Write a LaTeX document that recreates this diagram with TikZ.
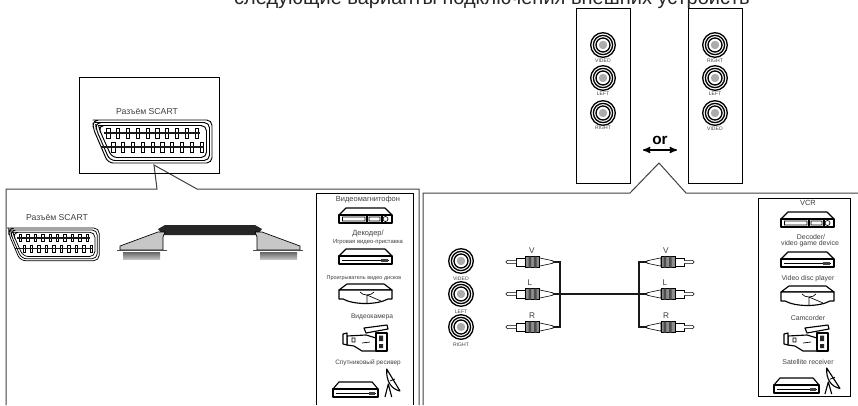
\documentclass[tikz,border=0pt]{standalone}
\usepackage{fontspec}
\setmainfont{Liberation Sans}
\usetikzlibrary{positioning, arrows}
\tikzset{
	>=stealth',
	panel/.style={draw=black!75, line width=.75pt},
	box/.style={draw=black, line width=.7pt},
	cable/.style={line width=2.2pt, black!90},
	lab/.style={inner sep=0pt, text=black!75, font=\fontsize{#1}{#1}\selectfont},
	lab/.default=5.6,
	gear/.style={draw=black, line width=.85pt, fill=white, line join=round},
	scart/.pic={
		\foreach \o in {0,2.5,5.5}
			\draw[rounded corners=4, fill=white] ({6+\o},{\o}) -- ({120-\o},{\o}) -- ({120-\o},{43-\o}) -- ({16+.7*\o},{43-\o}) -- ({1+1.3*\o},{8+.6*\o}) -- ({1+\o},{\o}) -- cycle;
		\foreach \i in {0,...,9} {
			\draw[fill=white, line width=.6pt] ({16.3+9.8*\i-1.6},8.5) rectangle ({16.3+9.8*\i+1.6},18);
			\draw[fill=white, line width=.6pt] ({21.3+9.8*\i-1.6},22.5) rectangle ({21.3+9.8*\i+1.6},32);
		}
		\draw[line width=1pt, black!90] (12,13) -- (108,13) (9,27) -- (112,27);
	},
	hood/.pic={
		\shade[top color=black!60, bottom color=black!25] (-40,2) rectangle (-3,9);
		\draw[line width=.5pt, fill=black!22] (-43,0) -- (-43,-4) -- (-5,-18) -- (2,-18) -- (0,-13) -- (0,0) -- cycle;
		\draw[line width=.8pt, black!70] (-46,.5) -- (4,.5);
	},
	jack/.pic={
		\draw[line width=1pt, fill=white] (0,0) circle (12.3);
		\draw[line width=1pt] (0,0) circle (9.6);
		\draw[line width=1pt] (0,0) circle (7);
		\fill[gray!65] (0,0) circle (4.2);
	},
	plug/.pic={
		\draw[line width=.45pt, fill=white] (0,-1.2) -- (-14,-4.2) -- (-14,4.2) -- (0,1.2) -- cycle;
		\draw[line width=.45pt, fill=black!45] (-28,-5.5) rectangle (-14,5.5);
		\fill[black!70] (-24.5,-5.5) rectangle (-22,5.5) (-19,-5.5) rectangle (-16.5,5.5);
		\draw[line width=.45pt, fill=white] (-37,-4) rectangle (-28,4);
		\draw[line width=.45pt, fill=white, rounded corners=1] (-37,-1.6) -- (-47,-1.6) -- (-47,1.6) -- (-37,1.6);
	},
	vcr/.pic={
		\draw[gear] (7,0) -- (46,0) -- (53,7) -- (0,7) -- cycle;
		\draw[gear] (0,7) rectangle (53,15);
		\draw[line width=.5pt] (3.5,9) rectangle (26,13) (30,9) rectangle (41,13) (46.5,11) circle (2.5);
		\draw[line width=1.1pt] (1,15.3) -- (52,15.3) (28,8) -- (28,14) (43,8) -- (43,14);
	},
	settop/.pic={
		\draw[gear] (7,0) -- (46,0) -- (53,7) -- (0,7) -- cycle;
		\draw[gear] (0,7) rectangle (53,15);
		\draw[line width=.4pt] (3,11.5) -- (50,11.5);
		\fill[black!75] (42,9.5) rectangle (49,13);
		\draw[line width=1.1pt] (1,15.4) -- (9,15.4) (44,15.4) -- (52,15.4);
	},
	disc/.pic={
		\draw[gear] (8,0) -- (45,0) -- (53,6) -- (0,6) -- cycle;
		\draw[gear] (0,6) -- (53,6) -- (53,15) -- (49,15) .. controls (38,21) and (15,21) .. (4,15) -- (0,15) -- cycle;
		\draw[line width=.5pt] (21,8) .. controls (24,12) and (32,12) .. (35,8);
		\draw[line width=.5pt] (28,11) -- (28,19.5) (28,11) -- (42,17);
	},
	camcorder/.pic={
		\draw[gear] (5,13) -- (24,12) -- (34,15) -- (34,28) -- (20,28) -- (12,23) -- (5,22) -- cycle;
		\draw[gear] (1,11) -- (5,10) -- (5,22) -- (1,21) -- cycle;
		\draw[gear] (22,5) -- (45,2) -- (46,6) -- (24,10) -- cycle;
		\draw[gear] (34,10) rectangle (45,28);
		\fill[black!85] (37,12.5) rectangle (41,18) (37,21) rectangle (41,25);
		\draw[line width=.5pt] (10,15) rectangle (13,19) (20,20) -- (28,19);
	},
	dish/.pic={
		\draw[gear] (1.7,0) .. controls (1,12) and (6,20) .. (15,22) -- cycle;
		\draw[line width=.6pt] (5,12) -- (10,10);
		\draw[gear] (0,28) -- (3.3,15) -- (6.7,28);
	}
}
\begin{document}
\begin{tikzpicture}[x=.75pt, y=-.75pt]
	\useasboundingbox (0,0) rectangle (858,405);
	\clip (0,0) rectangle (858,405);

	\node[inner sep=0pt, text=black!85, font=\fontsize{15pt}{15pt}\selectfont, anchor=base] (title) at (492,4) {следующие варианты подключения внешних устройств};

	\draw[panel] (6,405) -- (6,189) -- (157,189) -- (154,165) -- (197,189) -- (419,189) -- (419,405);
	\draw[panel] (423,405) -- (423,193) -- (630,193) -- (659,163) -- (686,193) -- (858,193);

	\draw[box] (79.5,77) rectangle (219,173);
	\node[lab=6.5] (scarttop) at (147,112) {Разъём SCART};
	\pic[line width=.7pt] at (92,120) {scart};

	\node[lab=6.5] (scartleft) at (57,218) {Разъём SCART};
	\pic[scale=.76, line width=.55pt] at (8,228) {scart};

	\fill[black!85] (158,229) -- (165,225) -- (255,225) -- (262,229) -- (257,235) -- (163,235) -- cycle;
	\pic at (163,250) {hood};
	\pic[xscale=-1] at (257,250) {hood};

	\draw[box] (316,405) -- (316,193) -- (413,193) -- (413,405);
	\node[lab] (vcrru) at (368,200) {Видеомагнитофон};
	\pic at (339,208) {vcr};
	\node[lab] (decru) at (368,234) {Декодер/};
	\node[lab=4.4] (gameru) at (368,242) {Игровая видео-приставка};
	\pic at (339,249) {settop};
	\node[lab=4.1] (discru) at (364,278) {Проигрыватель видео дисков};
	\pic at (339,284) {disc};
	\node[lab=5] (camru) at (372,317) {Видеокамера};
	\pic at (342,323) {camcorder};
	\node[lab=4.8] (satru) at (368,363) {Спутниковый ресивер};
	\pic[xscale=.85] at (333,382) {settop};
	\pic at (385,369) {dish};

	\draw[box] (576,8) rectangle (630,183);
	\draw[box] (688,8) rectangle (742,183);
	\pic at (603,45) {jack};
	\pic at (603,78) {jack};
	\pic at (603,113) {jack};
	\node[lab=3.8] (videoa) at (603,61) {VIDEO};
	\node[lab=3.8] (lefta) at (603,94) {LEFT};
	\node[lab=3.8] (righta) at (603,128) {RIGHT};
	\pic at (715,45) {jack};
	\pic at (715,78) {jack};
	\pic at (715,113) {jack};
	\node[lab=3.8] (rightb) at (715,61) {RIGHT};
	\node[lab=3.8] (leftb) at (715,94) {LEFT};
	\node[lab=3.8] (videob) at (715,129) {VIDEO};

	\node[inner sep=0pt, font=\fontsize{11.5pt}{11.5pt}\selectfont\bfseries] (or) at (660,140) {or};
	\coordinate (orl) at (643,150);
	\coordinate (orr) at (677,150);
	\draw[<->, line width=1pt] (orl) -- (orr);

	\pic at (461,261) {jack};
	\pic at (461,294) {jack};
	\pic at (461,327) {jack};
	\node[lab=3.8] (videoc) at (461,279) {VIDEO};
	\node[lab=3.8] (leftc) at (461,312) {LEFT};
	\node[lab=3.8] (rightc) at (461,345) {RIGHT};

	\coordinate (lv) at (553,262);
	\coordinate (ll) at (553,294);
	\coordinate (lr) at (553,327);
	\coordinate (lbus) at (560,294);
	\coordinate (rv) at (647,262);
	\coordinate (rl) at (647,294);
	\coordinate (rr) at (647,327);
	\coordinate (rbus) at (639,294);
	\draw[cable] (lv) -| (lbus) |- (lr);
	\draw[cable] (rv) -| (rbus) |- (rr);
	\draw[cable] (ll) -- (rl);
	\pic at (lv) {plug};
	\pic at (ll) {plug};
	\pic at (lr) {plug};
	\pic[xscale=-1] at (rv) {plug};
	\pic[xscale=-1] at (rl) {plug};
	\pic[xscale=-1] at (rr) {plug};
	\node[lab=6.2] (vleft) at (532,251) {V};
	\node[lab=6.2] (lleft) at (530,283) {L};
	\node[lab=6.2] (rleft) at (532,316) {R};
	\node[lab=6.2] (vright) at (666,251) {V};
	\node[lab=6.2] (lright) at (665,283) {L};
	\node[lab=6.2] (rright) at (666,316) {R};

	\draw[box] (758,198) rectangle (850,396);
	\node[lab] (vcren) at (808,203) {VCR};
	\pic at (781,212) {vcr};
	\node[lab=5.2] (decen) at (811,237) {Decoder/};
	\node[lab=5.2] (gameen) at (810,244) {video game device};
	\pic at (781,252) {settop};
	\node[lab=5.2] (discen) at (808,279) {Video disc player};
	\pic at (781,286) {disc};
	\node[lab=5.2] (camen) at (808,318) {Camcorder};
	\pic at (783,323) {camcorder};
	\node[lab=5.2] (saten) at (808,362) {Satellite receiver};
	\pic[xscale=.85] at (774,378) {settop};
	\pic[yscale=.93] at (825,368) {dish};
\end{tikzpicture}
\end{document}
